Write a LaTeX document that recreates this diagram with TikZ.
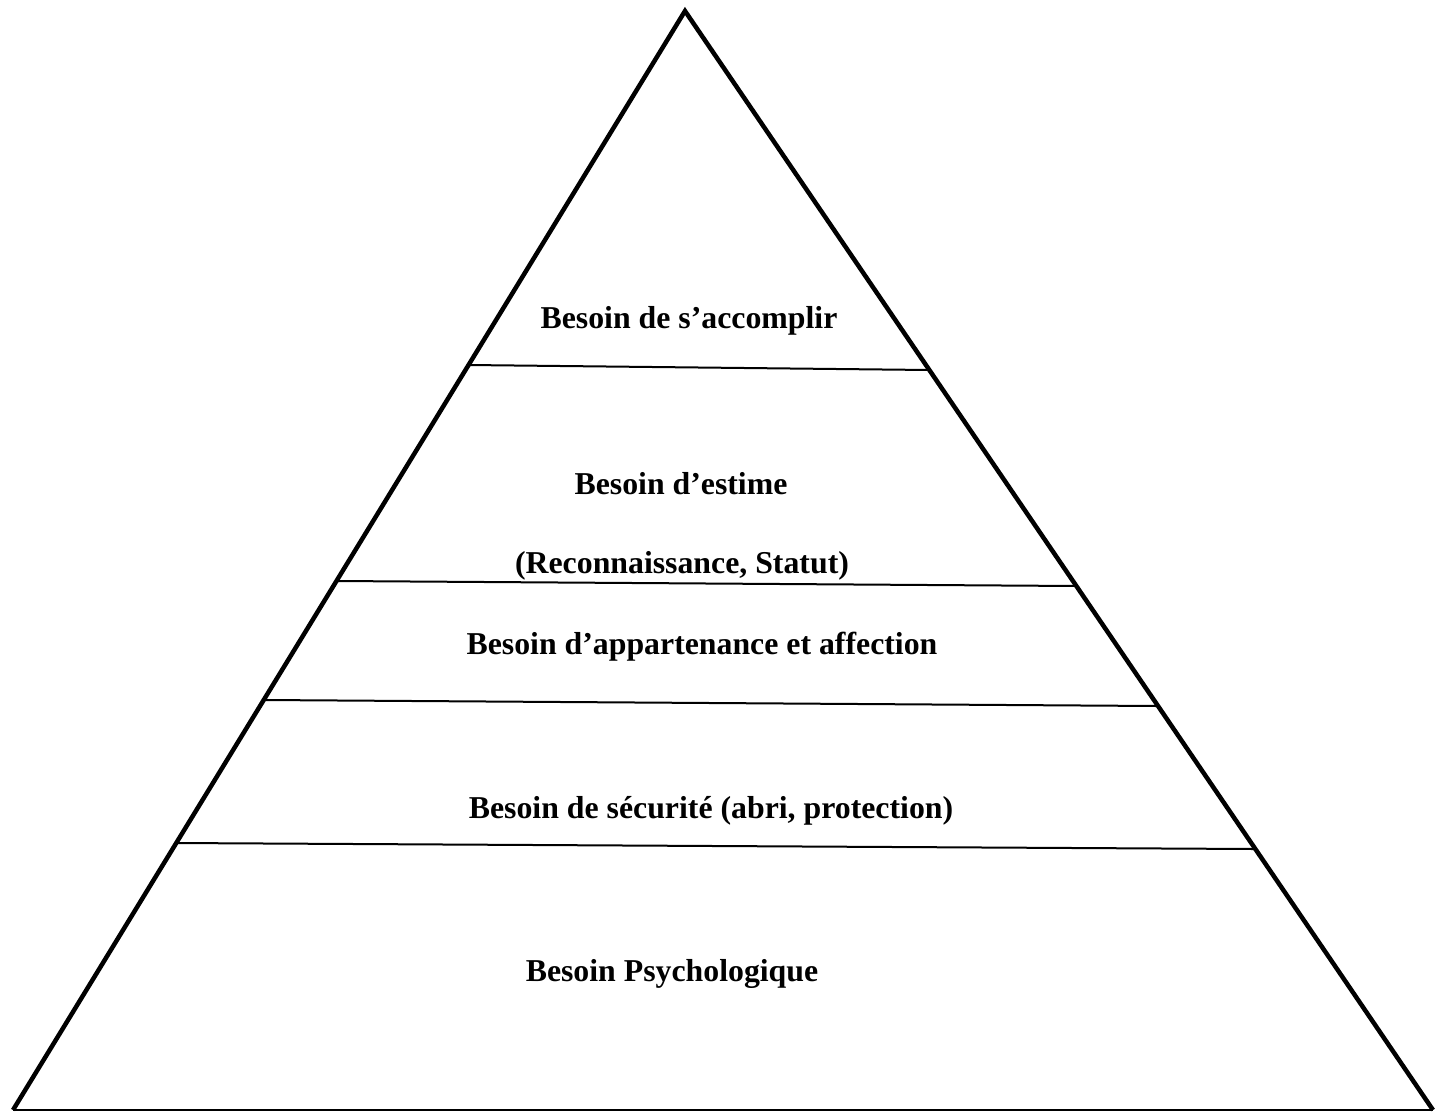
\documentclass[tikz,border=0pt]{standalone}
\usepackage{fontspec}
\setmainfont{Liberation Serif}
\begin{document}
\begin{tikzpicture}[x=1pt,y=-1pt,
  edge/.style={line width=4.5pt,line join=miter},
  tier/.style={line width=2pt},
  lbl/.style={font=\bfseries\fontsize{31.8}{36}\selectfont,inner sep=0pt}]
\useasboundingbox (0,0) rectangle (1437,1112);
\fill[white] (0,0) rectangle (1437,1112);
% outline of the pyramid
\coordinate (apex) at (685,11);
\coordinate (bl) at (13,1110);
\coordinate (br) at (1433,1110);
\draw[edge] (bl) -- (apex) -- (br);
\draw[tier] (bl) -- (br);
% tier separators
\coordinate (s1l) at (469,365); \coordinate (s1r) at (929,370);
\coordinate (s2l) at (338,581); \coordinate (s2r) at (1077,586);
\coordinate (s3l) at (265,700); \coordinate (s3r) at (1157,706);
\coordinate (s4l) at (176,843); \coordinate (s4r) at (1254,849);
\draw[tier] (s1l) -- (s1r);
\draw[tier] (s2l) -- (s2r);
\draw[tier] (s3l) -- (s3r);
\draw[tier] (s4l) -- (s4r);
% tier labels
\node[lbl] (t1) at (689,321) {Besoin de s’accomplir};
\node[lbl] (t2a) at (681,484) {Besoin d’estime};
\node[lbl] (t2b) at (682,566) {(Reconnaissance, Statut)};
\node[lbl] (t3) at (702,647) {Besoin d’appartenance et affection};
\node[lbl] (t4) at (711,811) {Besoin de sécurité (abri, protection)};
\node[lbl] (t5) at (672,974) {Besoin Psychologique};
\end{tikzpicture}
\end{document}
